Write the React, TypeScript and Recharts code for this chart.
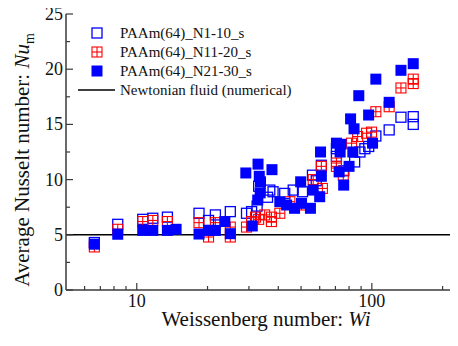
import React from 'react';
import {
  ScatterChart,
  Scatter,
  XAxis,
  YAxis,
  ReferenceLine,
  Legend,
} from 'recharts';

// Wi, Nu_m
const openWi = [6.6, 8.3, 10.6, 11.7, 13.5, 18.4, 20.2, 21.6, 25, 29.3, 30.8, 32.5, 33, 36, 36.8, 38, 42.6, 46.3, 50.7, 55.9, 58, 61, 70.7, 70.7, 76, 84.5, 89, 93.4, 97, 104, 118.5, 133, 150, 150];
const openNu = [4.3, 5.95, 6.4, 6.5, 6.6, 6.95, 6.3, 6.8, 7.1, 6.95, 7.1, 7.6, 9.4, 8.4, 9.05, 8.9, 8.75, 9.05, 8.9, 10.4, 9.9, 11.3, 12.8, 12.1, 10.8, 11.6, 12.5, 12.8, 13.0, 13.95, 14.5, 15.65, 15.7, 15.0];

const crossWi = [6.6, 8.3, 10.6, 11.7, 13.5, 18.4, 20.2, 21.6, 25, 25, 29.3, 30.8, 32, 33, 35, 37.4, 37.4, 40.6, 44.8, 50.2, 56.3, 61, 61.6, 70.7, 70.7, 75.6, 82, 87, 95, 99.7, 104, 118.5, 133, 150, 150];
const crossNu = [3.9, 5.5, 6.2, 6.3, 6.2, 6.1, 4.8, 6.1, 5.7, 4.8, 5.7, 6.2, 6.6, 6.4, 6.8, 6.6, 6.2, 6.95, 8.0, 7.7, 10.0, 11.2, 9.2, 11.5, 11.2, 10.4, 13.3, 13.9, 14.2, 14.3, 16.15, 16.6, 18.3, 18.7, 19.1];

const filledWi = [6.6, 8.3, 10.6, 11.7, 13.5, 14.7, 18.4, 20.2, 21.6, 23.7, 25, 29.1, 31, 32.7, 32.8, 33.2, 33.6, 33.5, 37.6, 40.6, 43.4, 46.9, 49.8, 50.2, 54.8, 56.3, 60, 60.5, 61, 70.7, 72.6, 73.3, 73.9, 75.9, 80, 81.2, 83, 84, 88, 96.9, 100.7, 104, 118.5, 133, 150];
const filledNu = [4.15, 5.05, 5.4, 5.4, 5.4, 5.5, 5.07, 5.4, 5.4, 6.2, 5.1, 10.6, 5.8, 8.15, 11.4, 10.3, 9.8, 8.8, 10.9, 8.0, 7.7, 7.4, 9.8, 7.85, 7.4, 9.05, 8.45, 12.5, 10.3, 13.3, 10.7, 12.5, 13.2, 9.5, 11.2, 15.5, 12.5, 14.6, 17.6, 15.85, 13.3, 19.1, 17.0, 19.9, 20.5];

const newtonianNu = 5;

const xTicks = [6, 7, 8, 9, 10, 20, 30, 40, 50, 60, 70, 80, 90, 100, 200, 300];
const xLabels = [10, 100];
const yTicks = [0, 2.5, 5, 7.5, 10, 12.5, 15, 17.5, 20, 22.5, 25];

const seriesNames = ['PAAm(64)_N1-10_s', 'PAAm(64)_N11-20_s', 'PAAm(64)_N21-30_s', 'Newtonian fluid (numerical)'];

const toPoints = (xs: number[], ys: number[]) => xs.map((x, i) => ({ wi: x, nu: ys[i] }));

const BLUE = '#0000ff';
const RED = '#ff0000';
const AXIS = '#3a3a3a';
const FONT = '"Liberation Serif", "Times New Roman", serif';

const OpenSquare = (p: any) => (
  <rect x={p.cx - 5} y={p.cy - 5} width={10} height={10} fill="none" stroke={BLUE} strokeWidth={1.3} />
);

const CrossSquare = (p: any) => (
  <g stroke={RED} strokeWidth={1.1} fill="none">
    <rect x={p.cx - 5} y={p.cy - 5} width={10} height={10} />
    <line x1={p.cx} y1={p.cy - 5} x2={p.cx} y2={p.cy + 5} />
    <line x1={p.cx - 5} y1={p.cy} x2={p.cx + 5} y2={p.cy} />
  </g>
);

const FilledSquare = (p: any) => (
  <rect x={p.cx - 5.5} y={p.cy - 5.5} width={11} height={11} fill={BLUE} />
);

const BottomTick = (p: any) => {
  const major = xLabels.includes(p.payload.value);
  return (
    <g>
      <line x1={p.x} y1={p.y} x2={p.x} y2={p.y - (major ? 7 : 4)} stroke={AXIS} strokeWidth={1.2} />
      {major && (
        <text x={p.x} y={p.y + 17} textAnchor="middle" fontSize={18} fontFamily={FONT} fill="#111">
          {p.payload.value}
        </text>
      )}
    </g>
  );
};

const TopTick = (p: any) => {
  const major = xLabels.includes(p.payload.value);
  return <line x1={p.x} y1={p.y} x2={p.x} y2={p.y + (major ? 7 : 4)} stroke={AXIS} strokeWidth={1.2} />;
};

const LeftTick = (p: any) => {
  const v = p.payload.value;
  const major = v % 5 === 0;
  return (
    <g>
      <line x1={p.x} y1={p.y} x2={p.x + (major ? 7 : 4)} y2={p.y} stroke={AXIS} strokeWidth={1.2} />
      {major && (
        <text x={p.x - 3} y={p.y + 6} textAnchor="end" fontSize={18} fontFamily={FONT} fill="#111">
          {v}
        </text>
      )}
    </g>
  );
};

const YTitle = () => (
  <text transform="translate(29,160) rotate(-90)" textAnchor="middle" fontSize={21} fontFamily={FONT} fill="#111">
    Average Nusselt number: <tspan fontStyle="italic">Nu</tspan>
    <tspan fontSize={14} dy={5}>m</tspan>
  </text>
);

const XTitle = () => (
  <text x={266} y={326} textAnchor="middle" fontSize={21} fontFamily={FONT} fill="#111">
    Weissenberg number: <tspan fontStyle="italic">Wi</tspan>
  </text>
);

const renderLegend = () => {
  const rows = [33, 52, 71, 90];
  return (
    <svg width={300} height={100} style={{ display: 'block' }}>
      <OpenSquare cx={97} cy={rows[0]} />
      <CrossSquare cx={97} cy={rows[1]} />
      <FilledSquare cx={97} cy={rows[2]} />
      <line x1={78} y1={rows[3]} x2={115} y2={rows[3]} stroke="#000" strokeWidth={1.5} />
      {seriesNames.map((n, i) => (
        <text key={n} x={120} y={rows[i] + 5} fontSize={15} fontFamily={FONT} fill="#111">
          {n}
        </text>
      ))}
    </svg>
  );
};

export default function App() {
  return (
    <div style={{ margin: -8, width: 458, height: 346, overflow: 'hidden', background: '#fff', position: 'relative' }}>
      <ScatterChart width={500} height={346} margin={{ top: 14, right: 16, bottom: 0, left: 0 }}>
        <XAxis
          dataKey="wi"
          type="number"
          scale="log"
          domain={[5, 300]}
          ticks={xTicks}
          interval={0}
          allowDataOverflow
          height={56}
          tickSize={0}
          tickMargin={0}
          tickLine={false}
          axisLine={{ stroke: AXIS, strokeWidth: 1.5 }}
          tick={<BottomTick />}
          label={<XTitle />}
        />
        <XAxis
          xAxisId="top"
          orientation="top"
          dataKey="wi"
          type="number"
          scale="log"
          domain={[5, 300]}
          ticks={xTicks}
          interval={0}
          allowDataOverflow
          height={0}
          tickSize={0}
          tickMargin={0}
          tickLine={false}
          axisLine={{ stroke: AXIS, strokeWidth: 1.5 }}
          tick={<TopTick />}
        />
        <YAxis
          dataKey="nu"
          type="number"
          domain={[0, 25]}
          ticks={yTicks}
          interval={0}
          width={66}
          tickSize={0}
          tickMargin={0}
          tickLine={false}
          axisLine={{ stroke: AXIS, strokeWidth: 1.5 }}
          tick={<LeftTick />}
          label={<YTitle />}
        />
        <ReferenceLine y={newtonianNu} stroke="#000" strokeWidth={1.6} ifOverflow="extendDomain" />
        <Scatter name={seriesNames[0]} data={toPoints(openWi, openNu)} shape={<OpenSquare />} isAnimationActive={false} />
        <Scatter name={seriesNames[1]} data={toPoints(crossWi, crossNu)} shape={<CrossSquare />} isAnimationActive={false} />
        <Scatter name={seriesNames[2]} data={toPoints(filledWi, filledNu)} shape={<FilledSquare />} isAnimationActive={false} />
        <Legend
          layout="horizontal"
          align="center"
          verticalAlign="middle"
          content={renderLegend}
          wrapperStyle={{ top: 0, left: 0, width: 300, height: 100 }}
        />
      </ScatterChart>
    </div>
  );
}
